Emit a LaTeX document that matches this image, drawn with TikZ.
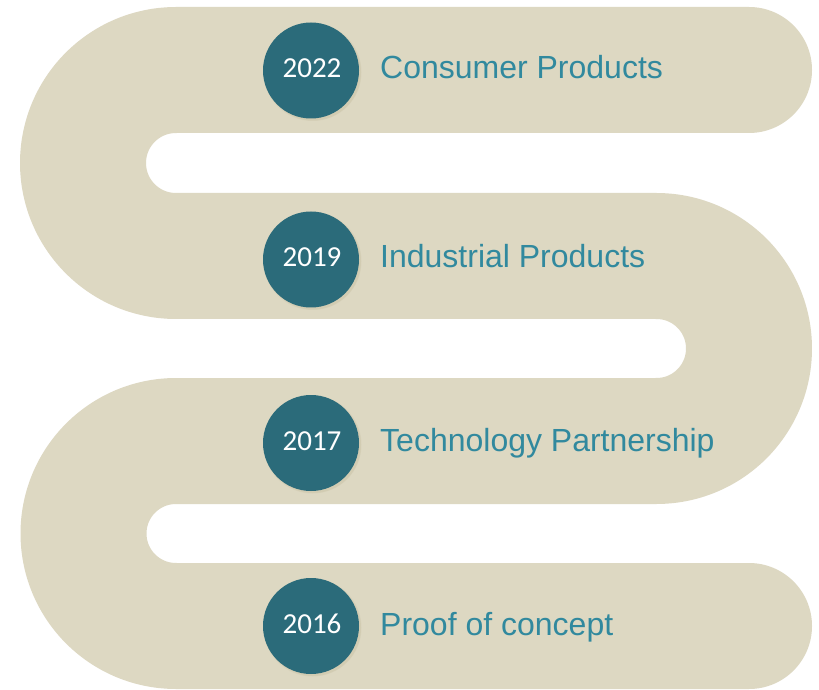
\documentclass[tikz,border=0pt]{standalone}
\usepackage{fontspec}
\setmainfont{Liberation Sans}
\newfontfamily\yearfont{Carlito}
\definecolor{band}{HTML}{DDD8C2}
\definecolor{shade}{HTML}{CFC9AE}
\definecolor{dot}{HTML}{2B6B7A}
\definecolor{lbl}{HTML}{31899E}
\begin{document}
\begin{tikzpicture}[x=1pt,y=1pt,
  yeardot/.style={circle, fill=dot, minimum size=96pt, inner sep=0pt},
  dotshade/.style={circle, fill=shade, minimum size=96pt, inner sep=0pt, opacity=0.6},
  yeartext/.style={text=white, font=\yearfont\fontsize{29}{34}\selectfont, inner sep=0pt},
  labeltext/.style={text=lbl, font=\fontsize{32}{38}\selectfont, inner sep=0pt, anchor=base west}]
\useasboundingbox (0,0) rectangle (819,689);
\fill[white] (0,0) rectangle (819,689);
% serpentine band
\draw[band, line width=126pt, line cap=round, line join=round]
  (749,63) -- (176,63) arc[start angle=270, end angle=90, radius=92.5]
  -- (656.5,248) arc[start angle=-90, end angle=90, radius=92.5]
  -- (176,433) arc[start angle=270, end angle=90, radius=93]
  -- (749,619);
% soft shadows under the dots
\foreach \yy in {618.5,429.5,246,63}{
  \node[dotshade] at (313,\yy-2) {};
  \node[dotshade, opacity=0.4, minimum size=98pt] at (312.5,\yy-1.5) {};
}
% milestones
\node[yeardot] (d1) at (311,618.5) {};
\node[yeardot] (d2) at (311,429.5) {};
\node[yeardot] (d3) at (311,246) {};
\node[yeardot] (d4) at (311,63) {};
\node[yeartext, anchor=base] (y1) at ([yshift=-7pt,xshift=1pt]d1.center) {2022};
\node[yeartext, anchor=base] (y2) at ([yshift=-7pt,xshift=1pt]d2.center) {2019};
\node[yeartext, anchor=base] (y3) at ([yshift=-7pt,xshift=1pt]d3.center) {2017};
\node[yeartext, anchor=base] (y4) at ([yshift=-7pt,xshift=1pt]d4.center) {2016};
\node[labeltext] (l1) at (380,610) {Consumer Products};
\node[labeltext] (l2) at (380,421) {Industrial Products};
\node[labeltext] (l3) at (380,238) {Technology Partnership};
\node[labeltext] (l4) at (380,54) {Proof of concept};
\end{tikzpicture}
\end{document}
